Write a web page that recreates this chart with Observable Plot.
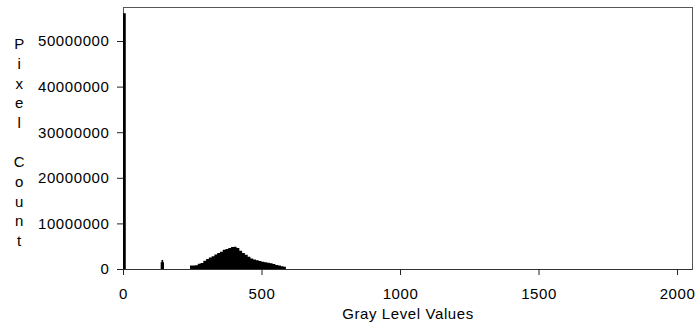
<!DOCTYPE html>
<html>
<head>
<meta charset="utf-8">
<script src="https://cdn.jsdelivr.net/npm/d3@7"></script>
<script src="https://cdn.jsdelivr.net/npm/@observablehq/plot@0.6"></script>
<style>
  html, body { margin: 0; padding: 0; background: #fff; }
  #chart svg text { letter-spacing: 0.6px; }
</style>
</head>
<body>
<div id="chart"></div>
<script>
// Histogram bins (step-after): gray level where a bin starts, and its pixel count
const grayLevels = [0, 10, 136, 139, 145, 148,
  242, 260, 270, 280, 290, 300, 310, 320, 330, 340, 350, 360, 370, 380, 390, 400,
  410, 420, 430, 440, 450, 460, 470, 480, 490, 500, 510, 520, 530, 540, 550, 560, 570, 580, 588];
const pixelCounts = [56100000, 0, 1500000, 2000000, 1500000, 0,
  750000, 800000, 1150000, 1300000, 1800000, 2200000, 2500000, 2800000, 3200000, 3500000, 3800000, 4200000, 4400000, 4600000, 4850000, 4900000,
  4600000, 4000000, 3500000, 3100000, 2700000, 2300000, 2100000, 1900000, 1750000, 1600000, 1500000, 1350000, 1250000, 1100000, 900000, 750000, 600000, 480000, 0];
const xTicks = [0, 500, 1000, 1500, 2000];
const yTicks = [0, 10000000, 20000000, 30000000, 40000000, 50000000];
const xLabel = "Gray Level Values";
const yLabel = "P\ni\nx\ne\nl\n\nC\no\nu\nn\nt";

const data = grayLevels.map((g, i) => ({g, c: pixelCounts[i]}));

const chart = Plot.plot({
  width: 697,
  height: 333,
  marginLeft: 123,
  marginRight: 5,
  marginTop: 7,
  marginBottom: 64,
  style: {fontFamily: "'Liberation Sans', Arial, sans-serif", fontSize: "15px", background: "#fff", color: "#000"},
  x: {domain: [0, 2054]},
  y: {domain: [0, 57460000]},
  marks: [
    Plot.frame({stroke: "#555"}),
    Plot.areaY(data, {x: "g", y: "c", curve: "step-after", fill: "#000"}),
    Plot.ruleY([0], {stroke: "#333"}),
    Plot.axisX({ticks: xTicks, tickSize: 6, tickPadding: 13, tickFormat: d => String(d), label: null, stroke: "#222"}),
    Plot.axisY({ticks: yTicks, tickSize: 6, tickPadding: 8, tickFormat: d => String(d), label: null, stroke: "#222"}),
    Plot.text([xLabel], {frameAnchor: "bottom", dy: 49, fontSize: 15}),
    Plot.text([yLabel], {frameAnchor: "top-left", dx: -104, dy: 28, lineAnchor: "top", textAnchor: "middle", lineHeight: 1.31, fontSize: 15})
  ]
});
document.getElementById("chart").appendChild(chart);
</script>
</body>
</html>
